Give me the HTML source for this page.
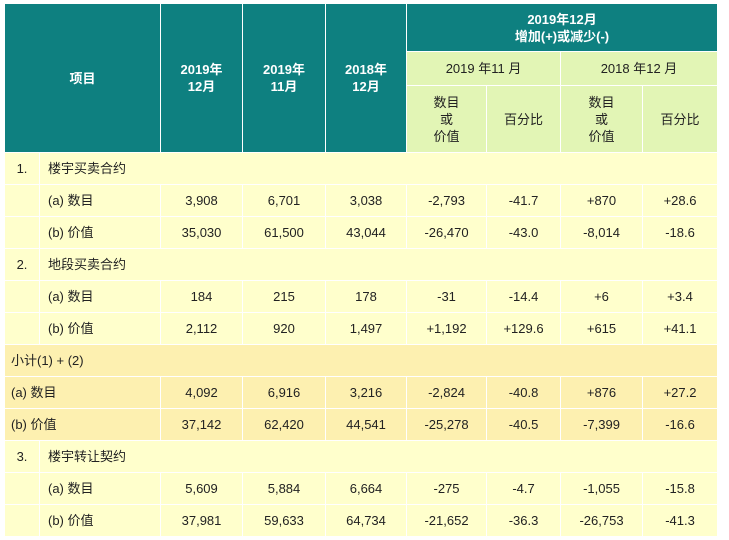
<!DOCTYPE html>
<html><head><meta charset="utf-8"><style>
body{margin:0;background:#fff;width:729px;height:540px;overflow:hidden;font-family:"Liberation Sans","Noto Sans CJK SC",sans-serif;font-size:13px;color:#222}
table{position:absolute;left:4px;top:3px;border-collapse:collapse;table-layout:fixed;width:713px}
td{border:1px solid #fff;padding:0;text-align:center;vertical-align:middle;line-height:17px}
.h{background:#0e8080;color:#fff;font-weight:bold}
.g{background:#e2f5b5}
.y td{background:#ffffcc}
.s td{background:#fdf0b0}
.l{text-align:left;padding-left:8px}
tr.b{height:32px}
</style></head><body>
<table>
<colgroup><col style="width:35px"><col style="width:121px"><col style="width:82px"><col style="width:83px"><col style="width:81px"><col style="width:80px"><col style="width:74px"><col style="width:82px"><col style="width:75px"></colgroup>
<tr style="height:48px">
<td class="h" colspan="2" rowspan="3">项目</td>
<td class="h" rowspan="3">2019年<br>12月</td>
<td class="h" rowspan="3">2019年<br>11月</td>
<td class="h" rowspan="3">2018年<br>12月</td>
<td class="h" colspan="4">2019年12月<br>增加(+)或减少(-)</td></tr>
<tr style="height:34px">
<td class="g" colspan="2">2019 年11 月</td>
<td class="g" colspan="2">2018 年12 月</td></tr>
<tr style="height:67px">
<td class="g">数目<br>或<br>价值</td>
<td class="g">百分比</td>
<td class="g">数目<br>或<br>价值</td>
<td class="g">百分比</td></tr>

<tr class="b y"><td>1.</td><td class="l" colspan="8">楼宇买卖合约</td></tr>
<tr class="b y"><td></td><td class="l">(a) 数目</td><td>3,908</td><td>6,701</td><td>3,038</td><td>-2,793</td><td>-41.7</td><td>+870</td><td>+28.6</td></tr>
<tr class="b y"><td></td><td class="l">(b) 价值</td><td>35,030</td><td>61,500</td><td>43,044</td><td>-26,470</td><td>-43.0</td><td>-8,014</td><td>-18.6</td></tr>
<tr class="b y"><td>2.</td><td class="l" colspan="8">地段买卖合约</td></tr>
<tr class="b y"><td></td><td class="l">(a) 数目</td><td>184</td><td>215</td><td>178</td><td>-31</td><td>-14.4</td><td>+6</td><td>+3.4</td></tr>
<tr class="b y"><td></td><td class="l">(b) 价值</td><td>2,112</td><td>920</td><td>1,497</td><td>+1,192</td><td>+129.6</td><td>+615</td><td>+41.1</td></tr>
<tr class="b s"><td class="l" colspan="9" style="padding-left:6px">小计(1) + (2)</td></tr>
<tr class="b s"><td class="l" colspan="2" style="padding-left:6px">(a) 数目</td><td>4,092</td><td>6,916</td><td>3,216</td><td>-2,824</td><td>-40.8</td><td>+876</td><td>+27.2</td></tr>
<tr class="b s"><td class="l" colspan="2" style="padding-left:6px">(b) 价值</td><td>37,142</td><td>62,420</td><td>44,541</td><td>-25,278</td><td>-40.5</td><td>-7,399</td><td>-16.6</td></tr>
<tr class="b y"><td>3.</td><td class="l" colspan="8">楼宇转让契约</td></tr>
<tr class="b y"><td></td><td class="l">(a) 数目</td><td>5,609</td><td>5,884</td><td>6,664</td><td>-275</td><td>-4.7</td><td>-1,055</td><td>-15.8</td></tr>
<tr class="b y"><td></td><td class="l">(b) 价值</td><td>37,981</td><td>59,633</td><td>64,734</td><td>-21,652</td><td>-36.3</td><td>-26,753</td><td>-41.3</td></tr>
</table>
</body></html>
